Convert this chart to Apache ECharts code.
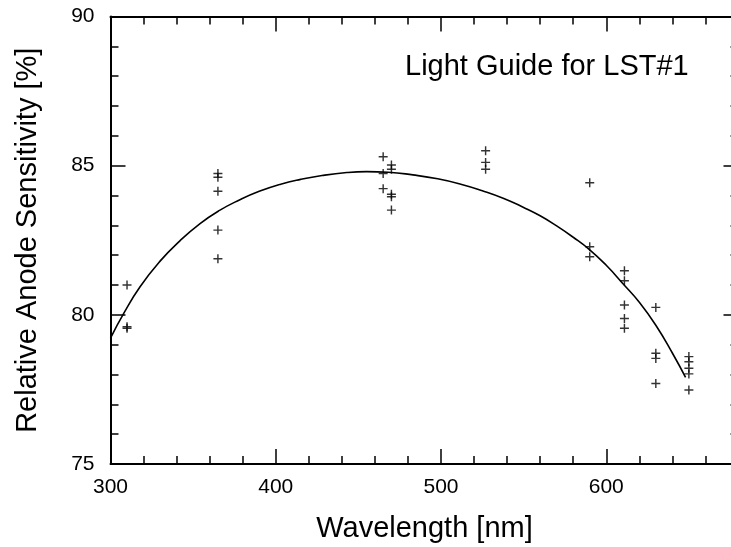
<!DOCTYPE html>
<html>
<head>
<meta charset="utf-8">
<script src="https://cdn.jsdelivr.net/npm/echarts@6/dist/echarts.min.js"></script>
<style>
html,body{margin:0;padding:0;background:#fff;}
#chart{width:731px;height:547px;}
</style>
</head>
<body>
<div id="chart"></div>
<script>
// ---- data ----
const pointWavelength = [
  310, 310, 310,
  365, 365, 365, 365, 365,
  465, 465, 465,
  470, 470, 470, 470, 470,
  527, 527, 527,
  590, 590, 590,
  611, 611, 611, 611, 611,
  630, 630, 630, 630,
  650, 650, 650, 650, 650
];
const pointSensitivity = [
  81.0, 79.6, 79.55,
  84.74, 84.61, 84.14, 82.84, 81.88,
  85.30, 84.74, 84.23,
  85.02, 84.88, 84.04, 83.96, 83.51,
  85.50, 85.11, 84.88,
  84.43, 82.28, 81.95,
  81.48, 81.14, 80.33, 79.88, 79.55,
  80.25, 78.71, 78.54, 77.70,
  78.60, 78.43, 78.21, 78.02, 77.48
];
const fitWavelength = [300, 308, 318, 330, 342, 354, 366, 378, 390, 403, 415, 428, 443, 455, 468, 483, 498, 512, 525, 538, 550, 560, 570, 580, 590, 600, 610, 620, 630, 640, 648];
const fitSensitivity = [79.22, 80.05, 80.95, 81.8, 82.48, 83.05, 83.5, 83.85, 84.14, 84.38, 84.54, 84.67, 84.77, 84.8, 84.78, 84.69, 84.56, 84.38, 84.16, 83.9, 83.6, 83.32, 82.98, 82.6, 82.18, 81.66, 81.05, 80.42, 79.65, 78.72, 77.9];
const annotationText = 'Light Guide for LST#1';
const xName = 'Wavelength [nm]';
const yName = 'Relative Anode Sensitivity [%]';

const pointData = pointWavelength.map((w, i) => [w, pointSensitivity[i]]);
const fitData = fitWavelength.map((w, i) => [w, fitSensitivity[i]]);

const FONT = 'Liberation Sans, Arial, Helvetica, sans-serif';
const black = '#000';
const axLine = { show: true, lineStyle: { color: black, width: 2 } };
const majTick = { show: true, inside: true, length: 15, lineStyle: { color: black, width: 1.5 } };
const minTick = { show: true, splitNumber: 5, length: 8, lineStyle: { color: black, width: 1.5 } };

const G = { left: 110.5, top: 16.5, height: 447.5, outerBoundsMode: 'none', containLabel: false };

const chart = echarts.init(document.getElementById('chart'), null, { renderer: 'canvas' });
chart.setOption({
  animation: false,
  backgroundColor: '#fff',
  grid: [
    Object.assign({ width: 661 }, G),
    Object.assign({ width: 661 }, G),
    Object.assign({ width: 628 }, G)
  ],
  xAxis: [
    {
      gridIndex: 0, type: 'value', min: 300, max: 700, interval: 100, position: 'bottom',
      axisLine: axLine, axisTick: majTick, minorTick: minTick,
      splitLine: { show: false }, minorSplitLine: { show: false },
      axisLabel: { margin: 13, fontSize: 21, color: black, fontFamily: FONT }
    },
    {
      gridIndex: 1, type: 'value', min: 300, max: 700, interval: 100, position: 'top',
      axisLine: axLine, axisTick: majTick, minorTick: minTick,
      splitLine: { show: false }, axisLabel: { show: false }
    },
    {
      gridIndex: 2, type: 'value', min: 300, max: 680, position: 'bottom',
      axisLine: { show: false }, axisTick: { show: false }, axisLabel: { show: false },
      splitLine: { show: false },
      name: xName, nameLocation: 'middle', nameGap: 50,
      nameTextStyle: { fontSize: 29, color: black, fontFamily: FONT }
    }
  ],
  yAxis: [
    {
      gridIndex: 0, type: 'value', min: 75, max: 90, interval: 5, position: 'left',
      axisLine: axLine, axisTick: majTick, minorTick: minTick,
      splitLine: { show: false },
      axisLabel: { margin: 16, fontSize: 21, color: black, fontFamily: FONT },
      name: yName, nameLocation: 'middle', nameGap: 68,
      nameTextStyle: { fontSize: 29, color: black, fontFamily: FONT }
    },
    { gridIndex: 1, type: 'value', min: 75, max: 90, show: false },
    {
      gridIndex: 2, type: 'value', min: 75, max: 90, interval: 5, position: 'right',
      axisLine: axLine, axisTick: majTick, minorTick: minTick,
      splitLine: { show: false }, axisLabel: { show: false }
    }
  ],
  graphic: [{
    type: 'text', left: 405, top: 52,
    style: { text: annotationText, fontSize: 29, fontFamily: FONT, fill: black }
  }],
  series: [
    {
      type: 'line', xAxisIndex: 0, yAxisIndex: 0, data: fitData,
      showSymbol: false, smooth: true,
      lineStyle: { color: black, width: 1.6 }
    },
    {
      type: 'scatter', xAxisIndex: 0, yAxisIndex: 0, data: pointData,
      symbol: 'path://M0,4.2H10V5.8H0Z M4.2,0H5.8V10H4.2Z', symbolSize: 9,
      itemStyle: { color: black }
    }
  ]
});
</script>
</body>
</html>
